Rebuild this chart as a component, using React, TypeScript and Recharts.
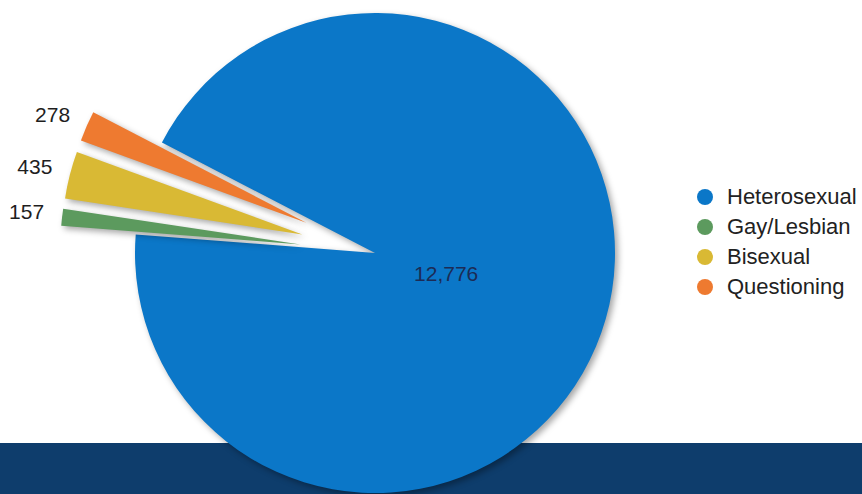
import React from 'react';
import { PieChart, Pie, Cell, Sector, Legend } from 'recharts';

const categories = ['Heterosexual', 'Gay/Lesbian', 'Bisexual', 'Questioning'];
const counts = [12776, 157, 435, 278];
const countLabels = ['12,776', '157', '435', '278'];
const colors = ['#0b77c8', '#5c9a5e', '#d9b934', '#ee7a30'];

const data = categories.map((name, i) => ({ name, value: counts[i], label: countLabels[i] }));

const RADIAN = Math.PI / 180;
const EXPLODE = 75;
const CX = 375;
const CY = 253;
const R = 240;

const idxOf = (p: any) => (typeof p.index === 'number' ? p.index : categories.indexOf(p.name ?? p.payload?.name));

const renderSlice = (props: any) => {
  const i = idxOf(props);
  const off = i === 0 ? 0 : EXPLODE;
  const sx = props.cx + off * Math.cos(-props.midAngle * RADIAN);
  const sy = props.cy + off * Math.sin(-props.midAngle * RADIAN);
  return (
    <Sector
      cx={sx}
      cy={sy}
      innerRadius={0}
      outerRadius={props.outerRadius}
      startAngle={props.startAngle}
      endAngle={props.endAngle}
      fill={props.fill}
      stroke="none"
      style={{ filter: 'drop-shadow(3px 3px 3px rgba(0,0,0,0.35))' }}
    />
  );
};

const renderLabel = (props: any) => {
  const i = idxOf(props);
  const m = props.midAngle;
  if (i === 0) {
    const r = 74;
    const x = props.cx + r * Math.cos(-m * RADIAN);
    const y = props.cy + r * Math.sin(-m * RADIAN);
    return (
      <text x={x} y={y} textAnchor="middle" dominantBaseline="central" fill="#1c2b55" fontSize={21} fontFamily="Liberation Sans, Arial, sans-serif">
        {countLabels[i]}
      </text>
    );
  }
  const r = props.outerRadius + EXPLODE + 18;
  const x = props.cx + r * Math.cos(-m * RADIAN);
  const y = props.cy + r * Math.sin(-m * RADIAN) - 4;
  return (
    <text x={x} y={y} textAnchor="end" dominantBaseline="central" fill="#1e1e1e" fontSize={21} fontFamily="Liberation Sans, Arial, sans-serif">
      {countLabels[i]}
    </text>
  );
};

const renderLegend = () => (
  <div style={{ fontFamily: 'Liberation Sans, Arial, sans-serif' }}>
    {categories.map((c, i) => (
      <div key={c} style={{ display: 'flex', alignItems: 'center', height: 30 }}>
        <span style={{ width: 16, height: 16, borderRadius: 8, background: colors[i], display: 'inline-block', marginRight: 14 }} />
        <span style={{ fontSize: 22, color: '#222' }}>{c}</span>
      </div>
    ))}
  </div>
);

export default function App() {
  const pieProps: any = {
    shape: renderSlice,
    inactiveShape: renderSlice,
    activeShape: renderSlice,
  };
  return (
    <div style={{ position: 'absolute', left: 0, top: 0, width: 862, height: 494, background: '#fff', overflow: 'hidden' }}>
      <div style={{ position: 'absolute', left: 0, top: 443, width: 862, height: 51, background: '#0e3d6c' }} />
      <div style={{ position: 'absolute', left: 0, top: 0 }}>
        <PieChart width={862} height={494} margin={{ top: 0, right: 0, bottom: 0, left: 0 }}>
          <Pie
            data={data}
            dataKey="value"
            nameKey="name"
            cx={CX}
            cy={CY}
            outerRadius={R}
            startAngle={152.6}
            endAngle={-207.4}
            stroke="none"
            isAnimationActive={false}
            {...pieProps}
            label={renderLabel}
            labelLine={false}
          >
            {data.map((d, i) => (
              <Cell key={d.name} fill={colors[i]} />
            ))}
          </Pie>
          <Legend
            content={renderLegend}
            layout="vertical"
            verticalAlign="top"
            align="right"
            wrapperStyle={{ position: 'absolute', left: 697, top: 182, width: 170 }}
          />
        </PieChart>
      </div>
    </div>
  );
}
